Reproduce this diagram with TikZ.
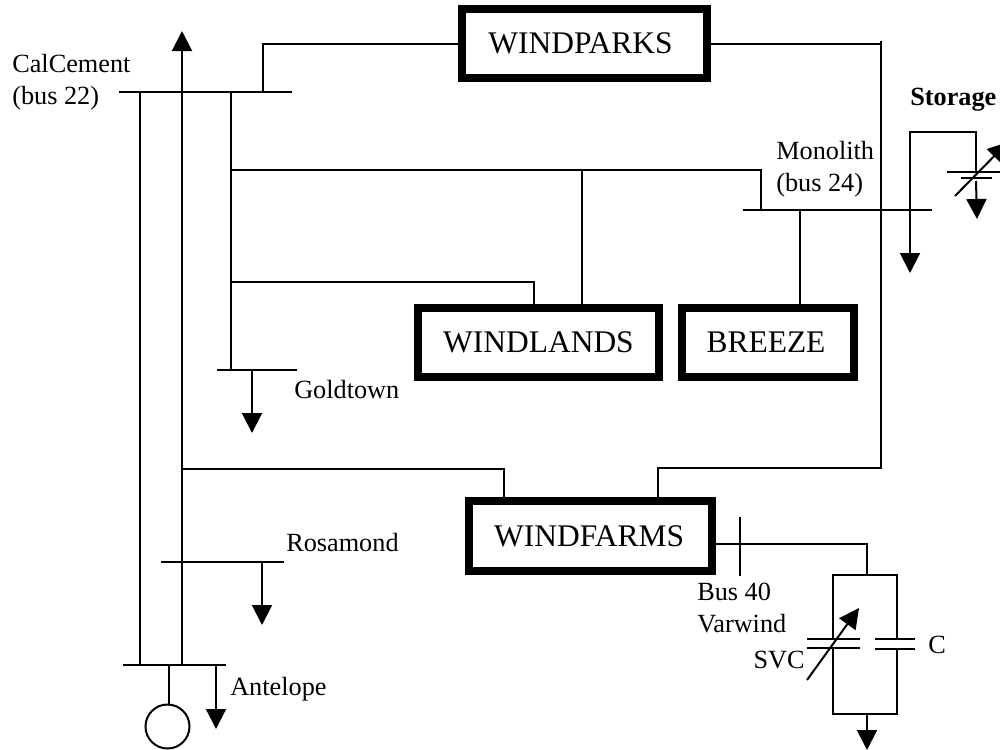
\documentclass[tikz,border=0pt]{standalone}
\usepackage{fontspec}
\setmainfont{Liberation Serif}
\usetikzlibrary{arrows.meta,positioning}

\begin{document}
\begin{tikzpicture}[
  x=0.75pt,y=-0.75pt,
  plant/.style={draw,line width=6pt,inner sep=0pt,minimum height=52pt,
    font=\fontsize{23.6}{28}\selectfont},
  label/.style={inner sep=0pt,align=left,anchor=base west,
    font=\fontsize{19.7}{23.3}\selectfont},
  wire/.style={line width=1.5pt},
  load/.style={wire,-{Triangle[length=15pt,width=15pt]}}
]
\useasboundingbox (0,0) rectangle (1000,750);
% plants
\node[plant,minimum width=184pt] (windparks) at (584.5,43.5) {\hspace*{-6pt}WINDPARKS};
\node[plant,minimum width=181pt] (windlands) at (538.5,342.5) {WINDLANDS};
\node[plant,minimum width=129pt] (breeze) at (768,342.5) {\hspace*{-3pt}BREEZE};
\node[plant,minimum width=182pt] (windfarms) at (590.5,536) {\hspace*{-2pt}WINDFARMS};
\node[draw,circle,line width=1.5pt,inner sep=0pt,minimum size=33pt] (gen) at (167.5,726.5) {};
% labels
\node[label] (calcement) at (12,104) {CalCement\\(bus 22)};
\node[label] (monolith) at (776,191) {Monolith\\(bus 24)};
\node[label,font=\fontsize{19.7}{23.3}\selectfont\bfseries] (storage) at (910,105) {Storage};
\node[label] (goldtown) at (294,398) {Goldtown};
\node[label] (rosamond) at (286,551) {Rosamond};
\node[label] (antelope) at (230,695) {Antelope};
\node[label] (bus40) at (697,632) {Bus 40\\Varwind};
\node[label,anchor=base east] (svc) at (805,668) {SVC};
\node[label] (cap) at (928,653) {C};
% bus bars
\coordinate (b22w) at (119,91.5);
\coordinate (b22e) at (292,91.5);
\coordinate (b22a) at (139.5,91.5);
\coordinate (b22b) at (231,91.5);
\coordinate (b22c) at (263,91.5);
\coordinate (b24w) at (743,210);
\coordinate (b24e) at (932,210);
\coordinate (b24a) at (761,210);
\coordinate (b24b) at (910,210);
\coordinate (b24c) at (799.5,210);
\coordinate (goldw) at (217,370);
\coordinate (golde) at (297,370);
\coordinate (golda) at (231,370);
\coordinate (goldb) at (252,370);
\coordinate (rosw) at (161,562);
\coordinate (rose) at (284,562);
\coordinate (rosa) at (262,562);
\coordinate (antw) at (123,665);
\coordinate (ante) at (226,665);
\coordinate (anta) at (139.5,665);
\coordinate (antb) at (182,665);
\coordinate (antc) at (169,665);
\coordinate (antd) at (216,665);
\coordinate (b40n) at (740,517);
\coordinate (b40s) at (740,576);
\draw[wire] (b22w) -- (b22e);
\draw[wire] (b24w) -- (b24e);
\draw[wire] (goldw) -- (golde);
\draw[wire] (rosw) -- (rose);
\draw[wire] (antw) -- (ante);
\draw[wire] (b40n) -- (b40s);
% lines
\coordinate (toptip) at (182,31);
\coordinate (tee) at (881,41);
\coordinate (teeb) at (881,468);
\coordinate (bend) at (881,43.5);
\coordinate (left) at (182,469);
\coordinate (farma) at (504,499);
\coordinate (farmb) at (658,499);
\coordinate (lands) at (533.5,282);
\coordinate (mono) at (582,170);
\draw[wire] (windparks.west) -| (b22c);
\draw[wire] (windparks.east) -- (bend);
\draw[wire] (tee) -- (teeb) -| (farmb);
\draw[wire] (left) -| (farma);
\draw[load] (antb) -- (toptip);
\draw[wire] (anta) -- (b22a);
\draw[wire] (b22b) -- (golda);
\draw[wire] (b22b |- mono) -| (b24a);
\draw[wire] (mono) -- (mono |- windlands.north);
\draw[wire] (b22b |- lands) -| (lands |- windlands.north);
\draw[wire] (b24c) -- (b24c |- breeze.north);
\draw[wire] (antc) -- (antc |- gen.north);
\draw[load] (goldb) -- (252,433);
\draw[load] (rosa) -- (262,625);
\draw[load] (antd) -- (216,729);
% storage
\coordinate (stplate) at (976,172);
\coordinate (stdrop) at (976,181);
\coordinate (sttip) at (977,219);
\coordinate (sta) at (955,196);
\coordinate (stb) at (1008,142);
\draw[wire] (b24b) |- (976,132) -- (stplate);
\draw[load] (b24b) -- (910,273);
\draw[wire] (947,172) -- (1000,172);
\draw[wire] (961,178) -- (992,178);
\draw[load] (stdrop) -- (sttip);
\draw[load] (sta) -- (stb);
% svc and c
\coordinate (tap) at (866.5,544);
\coordinate (tapb) at (866.5,575);
\coordinate (botm) at (867,714);
\coordinate (svcn) at (833,639);
\coordinate (svcs) at (833,648);
\coordinate (cn) at (897,639);
\coordinate (cs) at (897,649);
\draw[wire] (windfarms.east |- tap) -- (tap) -- (tapb);
\draw[wire] (svcn) |- (tapb) -| (cn);
\draw[wire] (svcs) |- (botm) -| (cs);
\draw[wire] (807,639) -- (860,639);
\draw[wire] (807,648) -- (860,648);
\draw[wire] (875,639) -- (915,639);
\draw[wire] (875,649) -- (915,649);
\draw[load] (807,680) -- (859,608);
\draw[load] (botm) -- (867,750);
\end{tikzpicture}
\end{document}
